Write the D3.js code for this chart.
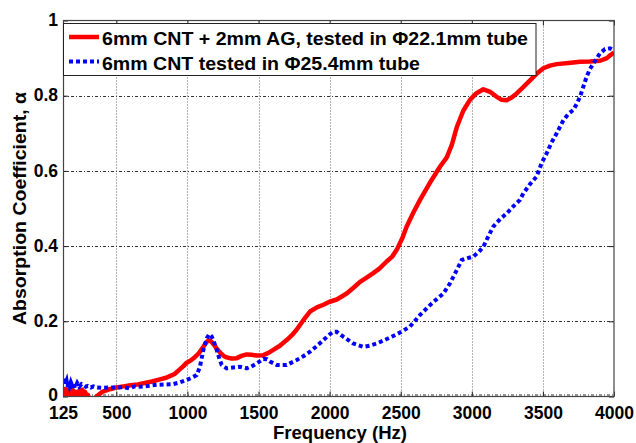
<!DOCTYPE html>
<html><head><meta charset="utf-8">
<script src="https://cdn.jsdelivr.net/npm/d3@7"></script>
<style>
html,body{margin:0;padding:0;background:#fff;}
text{font-family:"Liberation Sans",Arial,sans-serif;font-weight:bold;fill:#000;}
</style></head>
<body><svg id="c" width="636" height="443"></svg>
<script>
const xTicks = [125,500,1000,1500,2000,2500,3000,3500,4000];
const yTicks = [0,0.2,0.4,0.6,0.8,1];
const yTickLabels = ["0","0.2","0.4","0.6","0.8","1"];
const seriesNames = ["6mm CNT + 2mm AG, tested in \u03A622.1mm tube","6mm CNT tested in \u03A625.4mm tube"];

const redFreq = [125,133,140,148,155,163,170,178,185,193,200,210,220,230,240,250,260,270,280,290,300,315,330,345,360,380,400,430,460,500,550,600,650,700,750,800,850,880,910,940,970,995,1020,1050,1080,1112,1135,1150,1165,1182,1205,1229,1255,1276,1310,1347,1380,1417,1450,1487,1534,1570,1604,1650,1698,1735,1769,1815,1862,1910,1956,2000,2050,2120,2170,2214,2260,2307,2350,2401,2440,2472,2510,2542,2590,2636,2700,2776,2824,2860,2894,2940,2987,3030,3081,3130,3175,3210,3245,3280,3316,3360,3413,3460,3503,3550,3597,3680,3761,3830,3902,3950,3975,4000];
const redAlpha = [0.016,0.004,0.02,0.006,0.018,0.002,0.014,0.0,0.02,0.005,0.015,0.0,0.012,0.002,0.016,0.004,0.018,0.006,0.012,0.0,0.004,-0.01,-0.012,-0.006,0.0,0.006,0.012,0.016,0.02,0.024,0.027,0.03,0.032,0.036,0.04,0.045,0.05,0.055,0.06,0.07,0.08,0.09,0.095,0.104,0.115,0.132,0.145,0.15,0.147,0.14,0.128,0.117,0.108,0.104,0.101,0.102,0.108,0.112,0.111,0.109,0.11,0.116,0.124,0.135,0.15,0.163,0.178,0.203,0.226,0.237,0.244,0.252,0.258,0.274,0.29,0.305,0.316,0.328,0.34,0.359,0.372,0.39,0.42,0.452,0.49,0.523,0.565,0.611,0.636,0.67,0.716,0.76,0.789,0.806,0.817,0.81,0.797,0.789,0.788,0.795,0.806,0.822,0.842,0.86,0.873,0.88,0.884,0.887,0.89,0.891,0.893,0.9,0.908,0.915];

const blueFreq = [125,130,137,143,150,157,165,172,180,188,197,210,225,240,255,268,285,300,320,340,362,400,450,503,550,590,630,667,720,784,850,901,950,995,1030,1065,1088,1112,1136,1154,1170,1182,1206,1225,1241,1276,1320,1370,1417,1450,1487,1534,1560,1581,1628,1698,1769,1815,1862,1910,1956,2000,2026,2050,2096,2166,2237,2280,2331,2380,2425,2495,2565,2636,2706,2750,2800,2847,2894,2929,2970,3011,3050,3081,3115,3151,3200,3245,3290,3339,3362,3410,3456,3490,3527,3560,3597,3644,3680,3714,3740,3761,3785,3808,3830,3855,3880,3902,3937,3972,4000];
const blueAlpha = [0.045,0.03,0.05,0.035,0.042,0.025,0.04,0.028,0.038,0.03,0.035,0.022,0.036,0.026,0.033,0.03,0.026,0.028,0.024,0.027,0.024,0.023,0.024,0.024,0.025,0.022,0.027,0.026,0.028,0.031,0.032,0.033,0.038,0.044,0.05,0.057,0.079,0.124,0.155,0.166,0.16,0.15,0.124,0.1,0.084,0.075,0.077,0.079,0.075,0.08,0.088,0.1,0.099,0.093,0.084,0.084,0.097,0.107,0.119,0.134,0.15,0.165,0.172,0.172,0.159,0.141,0.132,0.135,0.141,0.149,0.157,0.17,0.186,0.217,0.243,0.258,0.274,0.301,0.336,0.363,0.368,0.372,0.385,0.398,0.425,0.452,0.472,0.487,0.505,0.523,0.54,0.565,0.585,0.62,0.647,0.675,0.7,0.735,0.752,0.762,0.78,0.797,0.825,0.851,0.87,0.886,0.9,0.913,0.924,0.926,0.92];

const L = 63, R = 614, T = 20.5, B = 396.5;
const svg = d3.select("#c");
const x = d3.scaleLinear().domain([125,4000]).range([L,R]);
const y = d3.scaleLinear().domain([0,1]).range([B,T]);

// grid
const g = svg.append("g");
g.selectAll(".vg").data(xTicks.slice(1,-1)).join("line")
  .attr("x1",d=>Math.round(x(d))+0.5).attr("x2",d=>Math.round(x(d))+0.5)
  .attr("y1",T).attr("y2",B)
  .attr("stroke","#666").attr("stroke-width",1).attr("stroke-dasharray","1,2");
g.selectAll(".hg").data(yTicks.slice(1,-1)).join("line")
  .attr("y1",d=>Math.round(y(d))+0.5).attr("y2",d=>Math.round(y(d))+0.5)
  .attr("x1",L).attr("x2",R)
  .attr("stroke","#333").attr("stroke-width",1).attr("stroke-dasharray","3,2,1,2");
g.append("line").attr("x1",L).attr("x2",R).attr("y1",B-1.5).attr("y2",B-1.5)
  .attr("stroke","#333").attr("stroke-width",1).attr("stroke-dasharray","3,2,1,2");

// clip
svg.append("clipPath").attr("id","pc").append("rect")
  .attr("x",L).attr("y",T-10).attr("width",R-L).attr("height",B-T+10);

const line = d3.line().x(d=>x(d[0])).y(d=>y(d[1])).curve(d3.curveLinear);
const redData = redFreq.map((f,i)=>[f,redAlpha[i]]);
const blueData = blueFreq.map((f,i)=>[f,blueAlpha[i]]);

const pg = svg.append("g").attr("clip-path","url(#pc)");
pg.append("path").datum(redData).attr("d",line)
  .attr("fill","none").attr("stroke","#ff0000").attr("stroke-width",4.5)
  .attr("stroke-linejoin","round");
pg.append("path").datum(blueData).attr("d",line)
  .attr("fill","none").attr("stroke","#0000ff").attr("stroke-width",4)
  .attr("stroke-dasharray","4,3");

// axes with inside ticks
const xb = d3.axisBottom(x).tickValues(xTicks).tickSize(-5).tickSizeOuter(0).tickPadding(10).tickFormat(d3.format("d"));
const yl = d3.axisLeft(y).tickValues(yTicks).tickSize(-5).tickSizeOuter(0).tickPadding(5).tickFormat((d,i)=>yTickLabels[i]);
const xa = svg.append("g").attr("transform",`translate(0,${B})`).call(xb);
const ya = svg.append("g").attr("transform",`translate(${L},0)`).call(yl);
svg.append("g").attr("transform",`translate(0,${T})`).call(d3.axisTop(x).tickValues(xTicks).tickSize(-5).tickSizeOuter(0).tickFormat(""));
svg.append("g").attr("transform",`translate(${R},0)`).call(d3.axisRight(y).tickValues(yTicks).tickSize(-5).tickSizeOuter(0).tickFormat(""));
svg.selectAll(".domain").remove();
svg.selectAll(".tick line").attr("stroke","#222");
[xa,ya].forEach(a=>a.selectAll("text").style("font-size","17.5px").style("font-family","Liberation Sans, Arial").style("font-weight","bold").attr("fill","#000"));
xa.selectAll("text").attr("dy","0.71em");
ya.selectAll("text").attr("dy","0.3em");
ya.selectAll(".tick").filter(d=>d===0).select("text").attr("dy","0.22em");

// frame
svg.append("rect").attr("x",L+0.5).attr("y",T).attr("width",R-L-0.5).attr("height",B-T)
  .attr("fill","none").attr("stroke","#444").attr("stroke-width",1.2);

// legend
const lg = svg.append("g");
lg.append("rect").attr("x",L+0.5).attr("y",23.5).attr("width",536-L-0.5).attr("height",52)
  .attr("fill","#fff").attr("stroke","#222").attr("stroke-width",1);
lg.append("line").attr("x1",69).attr("x2",99).attr("y1",37).attr("y2",37)
  .attr("stroke","#ff0000").attr("stroke-width",4.5);
lg.append("line").attr("x1",69).attr("x2",99).attr("y1",61.5).attr("y2",61.5)
  .attr("stroke","#0000ff").attr("stroke-width",4).attr("stroke-dasharray","4,3");
lg.append("text").attr("x",102).attr("y",45).style("font-size","18.5px")
  .attr("textLength",426).attr("lengthAdjust","spacingAndGlyphs").text(seriesNames[0]);
lg.append("text").attr("x",102).attr("y",70).style("font-size","18.5px")
  .attr("textLength",318).attr("lengthAdjust","spacingAndGlyphs").text(seriesNames[1]);

// axis titles
svg.append("text").attr("x",340).attr("y",438.5).attr("text-anchor","middle")
  .style("font-size","18px").attr("textLength",134).attr("lengthAdjust","spacingAndGlyphs").text("Frequency (Hz)");
svg.append("text").attr("transform","translate(26,208.5) rotate(-90)").attr("text-anchor","middle")
  .style("font-size","18px").attr("textLength",233).attr("lengthAdjust","spacingAndGlyphs").text("Absorption Coefficient, \u03B1");
</script></body></html>
